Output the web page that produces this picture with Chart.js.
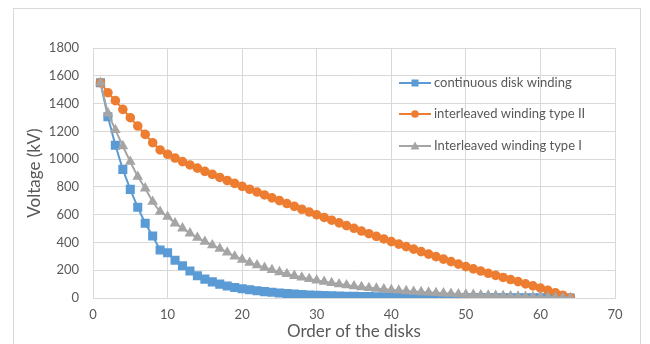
<!DOCTYPE html>
<html>
<head>
<meta charset="utf-8">
<script src="https://cdn.jsdelivr.net/npm/chart.js@4/dist/chart.umd.min.js"></script>
<style>
  body { margin: 0; background: #fff; }
  #frame { position: absolute; left: 13px; top: 8px; width: 628px; height: 400px; border: 1px solid #d9d9d9; box-sizing: border-box; }
  #wrap { position: absolute; left: 0; top: 0; width: 650px; height: 344px; }
</style>
</head>
<body>
<div id="frame"></div>
<div id="wrap"><canvas id="chart"></canvas></div>
<script>
// order of the disks (x axis)
const disks = [1,2,3,4,5,6,7,8,9,10,11,12,13,14,15,16,17,18,19,20,21,22,23,24,25,26,27,28,29,30,31,32,
  33,34,35,36,37,38,39,40,41,42,43,44,45,46,47,48,49,50,51,52,53,54,55,56,57,58,59,60,61,62,63,64];

// voltages in kV
const continuousDisk = [1550,1305,1100,926,782,653,538,446,346,326,272,232,195,160,136,116,100,87,76,67,59,52,46,41,36,32,
  28,25,22,20,18,16,14,13,12,11,10,9,8,7,7,6,6,5,5,4,4,4,3,3,3,3,2,2,2,2,2,1,1,1,1,1,1,0];
const interleavedII = [1550,1478,1421,1358,1298,1238,1178,1118,1066,1035,1008,982,958,935,912,890,868,846,825,804,783,763,
  742,721,701,680,660,639,619,599,580,560,541,521,502,482,463,444,425,406,388,370,352,334,316,298,280,262,244,226,
  210,194,178,163,148,133,118,102,87,71,55,38,20,2];
const interleavedI = [1550,1330,1210,1094,981,874,790,693,621,585,538,502,466,435,405,380,355,328,300,277,255,236,218,202,
  187,173,160,148,137,126,117,108,100,92,85,79,73,68,63,58,54,50,46,43,40,37,34,31,28,25,23,21,19,17,15,13,11,10,8,7,5,4,2,1];

const seriesNames = ['continuous disk winding','interleaved winding type II','Interleaved winding type I'];
const xTicks = [0,70,10];   // min, max, step
const yTicks = [0,1800,200];

const FONT = 'Lato, "Open Sans", sans-serif';
const TXT = '#595959';

function pts(vals){
  return vals.map((v,i)=> ({x: disks[i], y: v}));
}

// legend inside the plot, excel style
const legendInside = {
  id: 'legendInside',
  afterDraw(chart){
    const c = chart.ctx, a = chart.chartArea;
    const x0 = a.left + 306, rows = [35, 66, 98];
    chart.data.datasets.forEach((ds,i)=>{
      const y = a.top + rows[i];
      c.save();
      c.strokeStyle = ds.borderColor; c.lineWidth = 2;
      c.beginPath(); c.moveTo(x0, y); c.lineTo(x0+32, y); c.stroke();
      c.fillStyle = ds.backgroundColor;
      const mx = x0+16;
      if(ds.pointStyle==='rect'){ c.fillRect(mx-3.5, y-3.5, 7, 7); }
      else if(ds.pointStyle==='circle'){ c.beginPath(); c.arc(mx, y, 3.8, 0, Math.PI*2); c.fill(); }
      else { c.beginPath(); c.moveTo(mx, y-4.5); c.lineTo(mx+4.5, y+3.5); c.lineTo(mx-4.5, y+3.5); c.closePath(); c.fill(); }
      c.fillStyle = TXT; c.font = '13px ' + FONT;
      c.textAlign = 'left'; c.textBaseline = 'middle';
      c.fillText(ds.label, x0+35, y);
      c.restore();
    });
  }
};

const ctx = document.getElementById('chart').getContext('2d');
const chart = new Chart(ctx, {
  type: 'line',
  data: {
    datasets: [
      { label: seriesNames[0], data: pts(continuousDisk), borderColor: '#5b9bd5', backgroundColor: '#5b9bd5',
        pointStyle: 'rect', pointRadius: 5, borderWidth: 2, order: 2 },
      { label: seriesNames[1], data: pts(interleavedII), borderColor: '#ed7d31', backgroundColor: '#ed7d31',
        pointStyle: 'circle', pointRadius: 3.8, borderWidth: 2, order: 1 },
      { label: seriesNames[2], data: pts(interleavedI), borderColor: '#a5a5a5', backgroundColor: '#a5a5a5',
        pointStyle: 'triangle', pointRadius: 4.2, borderWidth: 2, order: 0 }
    ]
  },
  options: {
    responsive: true,
    maintainAspectRatio: false,
    animation: false,
    layout: { padding: { left: 20, right: 35, top: 48, bottom: 0 } },
    plugins: { legend: { display: false }, tooltip: { enabled: false } },
    elements: { point: { borderWidth: 0 }, line: { tension: 0 } },
    scales: {
      x: {
        type: 'linear', min: xTicks[0], max: xTicks[1],
        ticks: { stepSize: xTicks[2], color: TXT, font: { family: FONT, size: 13 }, padding: 9,
          callback: v => String(v) },
        grid: { color: '#d9d9d9', drawTicks: false },
        border: { color: '#d9d9d9' },
        title: { display: true, text: 'Order of the disks', color: TXT, font: { family: FONT, size: 17 }, padding: { top: 0, bottom: 2 } },
        afterFit(s){ s.height = 46; }
      },
      y: {
        min: yTicks[0], max: yTicks[1],
        ticks: { stepSize: yTicks[2], color: TXT, font: { family: FONT, size: 13 }, padding: 14,
          callback: v => String(v) },
        grid: { color: '#d9d9d9', drawTicks: false },
        border: { color: '#d9d9d9' },
        title: { display: true, text: 'Voltage (kV)', color: TXT, font: { family: FONT, size: 17 }, padding: { top: 4, bottom: 0 } },
        afterFit(s){ s.width = 73; }
      }
    }
  },
  plugins: [legendInside]
});
</script>
</body>
</html>
